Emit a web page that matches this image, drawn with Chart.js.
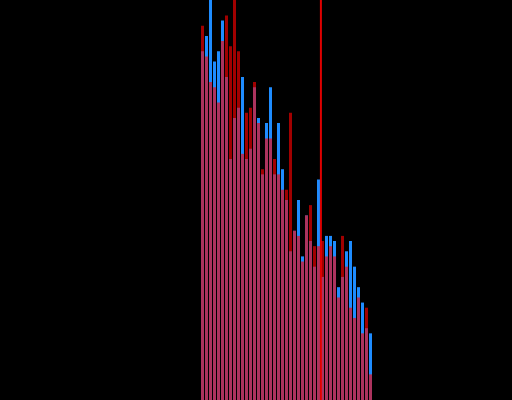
<!DOCTYPE html>
<html>
<head>
<meta charset="utf-8">
<script src="https://cdn.jsdelivr.net/npm/chart.js@4"></script>
<style>
  html, body { margin: 0; padding: 0; background: #000; }
  #wrap { width: 512px; height: 400px; position: relative; }
</style>
</head>
<body>
<div id="wrap"><canvas id="histChart"></canvas></div>
<script>
// bin index of each bar
const bins = [0, 1, 2, 3, 4, 5, 6, 7, 8, 9, 10, 11, 12, 13, 14, 15, 16, 17, 18, 19, 20,
    21, 22, 23, 24, 25, 26, 27, 28, 29, 30, 31, 32, 33, 34, 35, 36, 37, 38, 39, 40, 41, 42];

// counts per bin
const blueCounts = [68, 71, 78, 66, 68, 74, 63, 47, 55, 57, 63, 47, 49, 61, 55, 44, 54, 61, 44, 54, 45,
    39, 29, 33, 39, 28, 36, 31, 26, 43, 24, 32, 32, 31, 22, 24, 29, 31, 26, 22, 19, 14, 13];
const redCounts = [73, 67, 62, 61, 58, 70, 75, 69, 78, 68, 48, 56, 57, 62, 54, 45, 51, 51, 47, 44, 41,
    41, 56, 33, 32, 27, 36, 38, 30, 30, 31, 28, 30, 28, 20, 32, 26, 18, 16, 20, 13, 18, 5];

// vertical marker position (in bin units)
const markerX = 29.6;
const yMax = 78;

const toPoints = counts => bins.map((b, i) => ({ x: b, y: counts[i] }));

new Chart(document.getElementById("histChart"), {
    type: 'bar',
    data: {
        datasets: [
            {
                type: 'line',
                data: [{ x: markerX, y: 0 }, { x: markerX, y: yMax }],
                borderColor: 'rgba(235, 0, 0, 0.95)',
                borderWidth: 2,
                pointRadius: 0,
                order: 0
            },
            {
                label: 'B',
                data: toPoints(redCounts),
                backgroundColor: 'rgba(255, 0, 0, 0.63)',
                borderWidth: 0,
                grouped: false,
                barPercentage: 0.75,
                categoryPercentage: 1,
                order: 1
            },
            {
                label: 'A',
                data: toPoints(blueCounts),
                backgroundColor: '#1e8cff',
                borderWidth: 0,
                grouped: false,
                barPercentage: 0.75,
                categoryPercentage: 1,
                order: 2
            }
        ]
    },
    options: {
        responsive: true,
        maintainAspectRatio: false,
        animation: false,
        layout: { padding: 0 },
        plugins: { legend: { display: false }, tooltip: { enabled: false } },
        scales: {
            x: { type: 'linear', display: false, min: -50.625, max: 77.375, offset: false },
            y: { display: false, min: 0, max: yMax }
        }
    }
});
</script>
</body>
</html>
